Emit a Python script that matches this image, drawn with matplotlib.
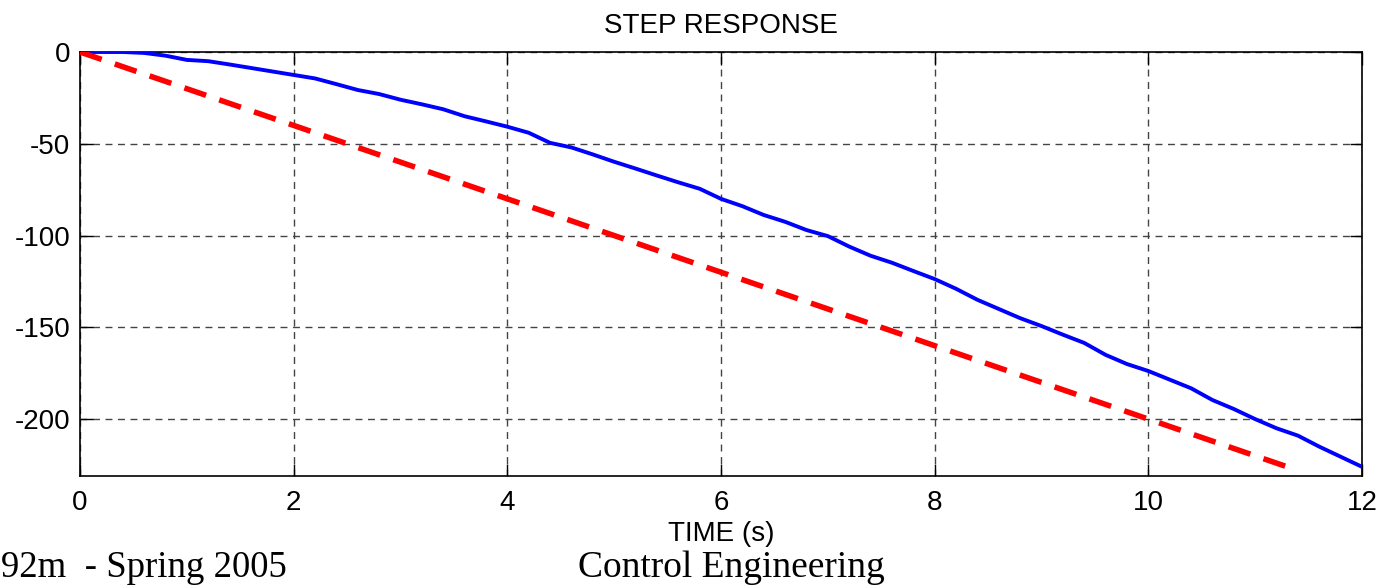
import numpy as np
import matplotlib
matplotlib.use("Agg")
import matplotlib.pyplot as plt

# step response (t in seconds)
t_resp = [0, 0.2, 0.4, 0.6, 0.8, 1.0, 1.2, 1.4, 1.6, 1.8, 2.0, 2.2, 2.4, 2.6, 2.8,
          3.0, 3.2, 3.4, 3.6, 3.8, 4.0, 4.2, 4.4, 4.6, 4.8, 5.0, 5.2, 5.4, 5.6, 5.8,
          6.0, 6.2, 6.4, 6.6, 6.8, 7.0, 7.2, 7.4, 7.6, 7.8, 8.0, 8.2, 8.4, 8.6, 8.8,
          9.0, 9.2, 9.4, 9.6, 9.8, 10.0, 10.2, 10.4, 10.6, 10.8, 11.0, 11.2, 11.4,
          11.6, 11.8, 12.0]
y_resp = [0, 0, 0, -0.5, -2, -4.3, -5, -6.8, -8.7, -10.6, -12.5, -14.4, -17.5, -20.7, -22.9,
          -26, -28.5, -31.2, -35, -37.8, -40.7, -44, -49.5, -52, -55.8, -59.8, -63.5, -67.3, -71, -74.5,
          -80, -84, -88.8, -92.5, -97, -100.3, -106, -111, -114.8, -119.3, -123.7, -129, -135, -140, -145,
          -149.3, -154, -158.5, -165, -170, -173.8, -178.5, -183.2, -189.6, -194.5, -200, -205, -209,
          -215, -220.5, -226]

# reference ramp (red dashed)
t_ref = [0, 11.4]
y_ref = [0, -228]

xticks = [0, 2, 4, 6, 8, 10, 12]
yticks = [0, -50, -100, -150, -200]

plt.rcParams['font.family'] = ['Liberation Sans', 'DejaVu Sans']
plt.rcParams['lines.scale_dashes'] = False

fig = plt.figure(figsize=(13.8, 5.85), dpi=100)
ax = fig.add_axes([80 / 1380, 1 - 476 / 585, (1362 - 80) / 1380, (476 - 52) / 585])

ax.plot(t_resp, y_resp, color='#0000ff', lw=2.8, zorder=3)
ax.plot(t_ref, y_ref, color='#ff0000', lw=4, dashes=(16.5, 10), dash_capstyle='butt', zorder=3)

ax.set_xlim(0, 12)
ax.set_ylim(-231, 0)
ax.set_xticks(xticks)
ax.set_yticks(yticks)
ax.set_xticklabels([str(v) for v in xticks])
ax.set_yticklabels([str(v) for v in yticks])

ax.grid(True, color='#444444', lw=1.0, dashes=(5, 4))
ax.set_axisbelow(True)
ax.tick_params(direction='in', length=9, width=1, top=True, right=True,
               labelsize=20, pad=7)
ax.tick_params(axis='x', pad=10)
for s in ax.spines.values():
    s.set_linewidth(1.2)

ax.set_title('STEP RESPONSE', fontsize=20, pad=14)
ax.set_xlabel('TIME (s)', fontsize=20, labelpad=4)

fig.text(1 / 1380, 1 - 577 / 585, '92m  - Spring 2005', family='Liberation Serif',
         fontsize=26.5, ha='left', va='baseline')
fig.text(731 / 1380, 1 - 577 / 585, 'Control Engineering', family='Liberation Serif',
         fontsize=27, ha='center', va='baseline')

fig.savefig('out.png', dpi=100)
